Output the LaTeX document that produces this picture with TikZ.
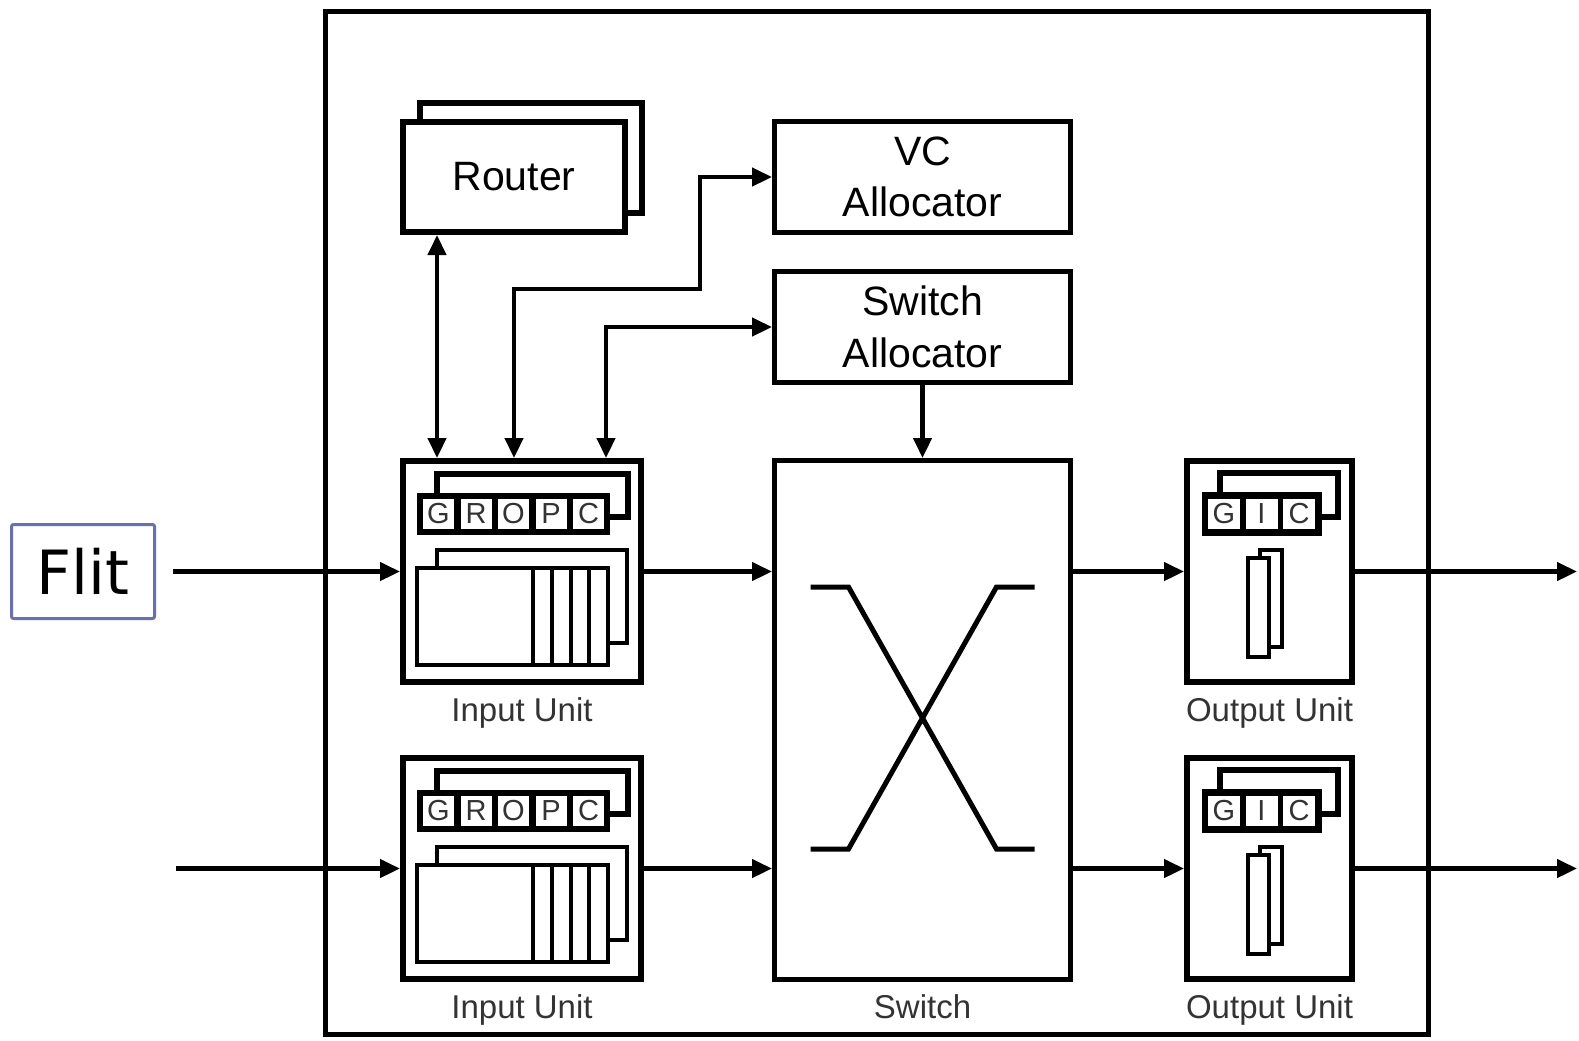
\documentclass[tikz,border=0pt]{standalone}
\usepackage{fontspec}
\setmainfont{Liberation Sans}
\newfontfamily\flitfont{DejaVu Sans}
\usepackage{xcolor}
\usetikzlibrary{arrows.meta,positioning}
\definecolor{flitblue}{RGB}{106,112,170}

\begin{document}
\begin{tikzpicture}[x=0.5pt, y=-0.5pt, line join=miter,
  every node/.style={font=\fontsize{20.5}{25.75}\selectfont},
  blk/.style={draw, line width=2.5pt, fill=white, align=center, inner sep=0pt, minimum width=148pt, minimum height=55.5pt},
  unit/.style={draw, line width=3pt, fill=white, inner sep=0pt, minimum height=110.5pt},
  lbl/.style={font=\fontsize{16.5}{19}\selectfont, text=black!80, inner sep=0pt},
  cell/.style={fill=white, inner sep=0pt, minimum height=15pt, font=\fontsize{14.5}{16}\selectfont, text=black!80},
  reg/.style={line width=3pt},
  buf/.style={line width=2pt},
  arr/.style={-{Triangle[length=10pt,width=9pt]}, line width=2.25pt},
  both/.style={{Triangle[length=10pt,width=9pt]}-{Triangle[length=10pt,width=9pt]}, line width=2.25pt},
  inparts/.pic={
    \draw[reg] (-85,-97.5) rectangle (106,-54.5);
    \fill (-105,-78.5) rectangle (88,-36.5);
    \foreach \t [count=\i from 0] in {G,R,O,P,C}
      \node[cell, minimum width=15.5pt] (c\i) at (-83.5+37.5*\i,-57.5) {\t};
    \draw[buf] (-85,-21.5) rectangle (105,71.5);
    \draw[buf, fill=white] (-105,-3.5) rectangle (86,93.5);
    \foreach \d in {11,30,48.5,67} \draw[buf] (\d,-3.5) -- (\d,93.5);
  },
  outparts/.pic={
    \draw[reg] (-49.5,-98.5) rectangle (68.5,-54.5);
    \fill (-67.5,-79.5) rectangle (52.5,-35.5);
    \foreach \t [count=\i from 0] in {G,I,C}
      \node[cell, minimum width=16pt] (c\i) at (-45.5+37.5*\i,-57.5) {\t};
    \draw[buf] (-9.5,-21.5) rectangle (12.5,75.5);
    \draw[buf, fill=white] (-21.5,-13.5) rectangle (-0.5,85.5);
  }]
\useasboundingbox (0,0) rectangle (1579,1040);

% router frame
\draw[line width=2.5pt] (325.5,11.5) rectangle (1428.5,1034.5);

\node[draw, flitblue, line width=1.5pt, rounded corners=1pt, minimum width=71.5pt, minimum height=47pt, inner sep=0pt,
  text=black, font=\flitfont\fontsize{30.5}{34}\selectfont] (flit) at (83,571.5) {Flit};

\node[blk, line width=3pt, minimum width=111pt, minimum height=55pt] (routerbk) at (531,158) {};
\node[blk, line width=3pt, minimum width=111pt, minimum height=55pt] (router) at (514,177) {Router};
\node[blk] (vc) at (922.5,177) {VC\\Allocator};
\node[blk] (sa) at (922.5,327) {Switch\\Allocator};
\node[blk, minimum height=259.5pt] (sw) at (922.5,720) {};
\draw[line width=2.5pt, shift={(sw.center)}] (-112,-133) -- (-74,-133) -- (74,129) -- (112,129)
  (-112,129) -- (-74,129) -- (74,-133) -- (112,-133);

\node[unit, minimum width=119pt] (in1) at (522,571.5) {};
\node[unit, minimum width=119pt] (in2) at (522,868.5) {};
\node[unit, minimum width=82.5pt] (out1) at (1269.5,571.5) {};
\node[unit, minimum width=82.5pt] (out2) at (1269.5,868.5) {};
\pic (p1) at (in1.center) {inparts};
\pic (p2) at (in2.center) {inparts};
\pic (q1) at (out1.center) {outparts};
\pic (q2) at (out2.center) {outparts};

\node[lbl, below=6pt of in1] (in1lbl) {Input Unit};
\node[lbl, below=6pt of in2] (in2lbl) {Input Unit};
\node[lbl, below=6pt of sw] (swlbl) {Switch};
\node[lbl, below=6pt of out1] (out1lbl) {Output Unit};
\node[lbl, below=6pt of out2] (out2lbl) {Output Unit};

\coordinate (src2) at (176,868.5);
\coordinate (exit1) at (1577,571.5);
\coordinate (exit2) at (1577,868.5);
\coordinate (bend) at (700,289);

% datapath
\draw[arr, shorten <=8.5pt] (flit.east) -- (in1.west);
\draw[arr] (src2) -- (in2.west);
\draw[arr] (in1.east) -- (in1.east -| sw.west);
\draw[arr] (in2.east) -- (in2.east -| sw.west);
\draw[arr] (out1.west -| sw.east) -- (out1.west);
\draw[arr] (out2.west -| sw.east) -- (out2.west);
\draw[arr] (out1.east) -- (exit1);
\draw[arr] (out2.east) -- (exit2);
% control
\draw[both] ([xshift=-42.5pt]in1.north) -- ([xshift=-42.5pt]in1.north |- router.south);
\draw[both] ([xshift=-4pt]in1.north) |- (bend) |- (vc.west);
\draw[both] ([xshift=42pt]in1.north) |- (sa.west);
\draw[arr] (sa.south) -- (sw.north);
\end{tikzpicture}
\end{document}
